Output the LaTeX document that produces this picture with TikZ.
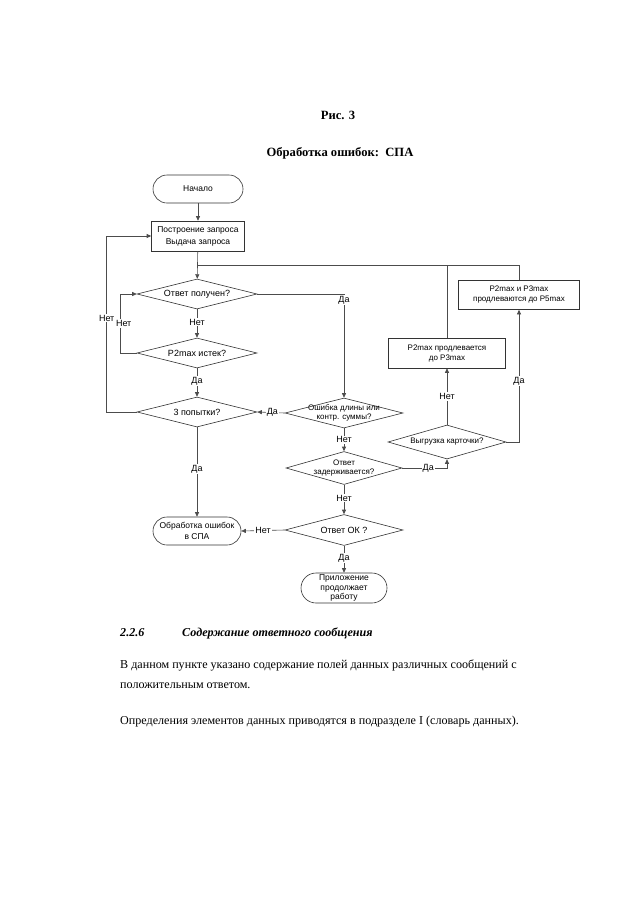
\documentclass[tikz,border=0pt]{standalone}
\usepackage{fontspec}
\setmainfont{Liberation Serif}
\newfontfamily\diafont{Liberation Sans}
\usetikzlibrary{arrows.meta,shapes.geometric}
\begin{document}
\begin{tikzpicture}[x=1pt,y=-1pt,
  ln/.style={draw=black!70, line width=0.6pt},
  arr/.style={ln, -{Triangle[length=4.5pt,width=4pt]}},
  term/.style={draw=black!80, line width=0.6pt, rectangle, rounded corners=14pt, minimum height=28pt, inner sep=1pt, align=center, font=\diafont\fontsize{8.5}{11}\selectfont},
  proc/.style={draw=black!80, line width=0.6pt, rectangle, minimum height=30pt, inner sep=1pt, align=center, font=\diafont\fontsize{8.5}{12}\selectfont},
  dia/.style={draw=black!80, line width=0.6pt, diamond, minimum width=120pt, minimum height=30pt, inner sep=0pt},
  dtext/.style={font=\diafont\fontsize{9}{10}\selectfont, align=center, inner sep=0pt},
  stext/.style={font=\diafont\fontsize{8}{9}\selectfont, align=center, inner sep=0pt},
  lbl/.style={font=\diafont\fontsize{9}{10}\selectfont, fill=white, inner sep=1pt},
  body/.style={font=\fontsize{12.1}{14}\selectfont, anchor=west, inner sep=0pt}
]
\useasboundingbox (0,0) rectangle (640,905);
\fill[white] (0,0) rectangle (640,905);

% titles
\node[font=\bfseries\fontsize{12.6}{14}\selectfont] (fig) at (338,115) {Рис. 3};
\node[font=\bfseries\fontsize{12.6}{14}\selectfont] (ttl) at (340,153) {Обработка ошибок:\ \ СПА};

% nodes
\node[term, minimum width=90pt] (start) at (198,189) {Начало};
\node[proc, minimum width=93pt] (proc) at (198,236) {Построение запроса\\Выдача запроса};
\coordinate (j1) at (198,265);
\node[dia, label={[dtext]center:Ответ получен?}] (d1) at (197,294) {};
\node[dia, label={[dtext]center:P2max истек?}] (d2) at (197,353) {};
\node[dia, label={[dtext]center:3 попытки?}] (d3) at (197,412) {};
\node[term, minimum width=88pt] (t2) at (197,531) {Обработка ошибок\\в СПА};
\node[dia, minimum width=118pt, label={[stext]center:Ошибка длины или\\контр. суммы?}] (d4) at (344,413) {};
\node[dia, minimum width=116pt, minimum height=33pt, label={[stext]center:Ответ\\задерживается?}] (d5) at (344,468) {};
\node[dia, minimum width=118pt, minimum height=31pt, label={[dtext]center:Ответ ОК ?}] (d7) at (344,530) {};
\node[term, minimum width=86pt, minimum height=30pt, rounded corners=15pt, font=\diafont\fontsize{8.5}{9.5}\selectfont] (t3) at (344,588) {Приложение\\продолжает\\работу};
\node[dia, minimum width=118pt, minimum height=34pt, label={[stext]center:Выгрузка карточки?}] (d6) at (447,442) {};
\node[proc, minimum width=117pt, font=\diafont\fontsize{8}{10}\selectfont] (p3) at (447,353) {P2max продлевается\\до P3max};
\node[proc, minimum width=121pt, minimum height=29pt, font=\diafont\fontsize{8}{10}\selectfont] (p5) at (519,295) {P2max и P3max\\продлеваются до P5max};

% connectors
\draw[arr] (start) -- (proc);
\draw[arr] (proc) -- (d1);
\draw[arr] (d1.east) -| node[lbl, pos=0.53] {Да} (d4.north);
\draw[arr] (d1) -- node[lbl, pos=0.45] {Нет} (d2);
\draw[arr] (d2.west) -- ++(-16,0) |- node[lbl, pos=0.25, xshift=3pt] {Нет} (d1.west);
\draw[arr] (d2) -- node[lbl, pos=0.45] {Да} (d3);
\draw[arr] (d3.west) -- ++(-30,0) |- node[lbl, pos=0.267] {Нет} (proc.west);
\draw[arr] (d4.west) -- node[lbl, pos=0.45] {Да} (d3.east);
\draw[arr] (d3) -- node[lbl, pos=0.47] {Да} (t2);
\draw[arr] (d4) -- node[lbl, pos=0.5] {Нет} (d5);
\draw[arr] (d5.east) -| node[lbl, pos=0.29] {Да} (d6.south);
\draw[arr] (d5) -- node[lbl, pos=0.45] {Нет} (d7);
\draw[arr] (d7.west) -- node[lbl, pos=0.5] {Нет} (t2.east);
\draw[arr] (d7) -- node[lbl, pos=0.45] {Да} (t3);
\draw[arr] (d6) -- node[lbl, pos=0.5] {Нет} (p3);
\draw[arr] (d6.east) -| node[lbl, pos=0.73] {Да} (p5.south);
\draw[ln] (p3.north) |- (j1);
\draw[ln] (p5.north) |- (j1);

% text below
\node[body, font=\bfseries\itshape\fontsize{12.1}{14}\selectfont] (sec) at (120,633) {2.2.6};
\node[body, font=\bfseries\itshape\fontsize{12.1}{14}\selectfont] (sect) at (182,633) {Содержание ответного сообщения};
\node[body] (l1) at (120,665) {В данном пункте указано содержание полей данных различных сообщений с};
\node[body] (l2) at (120,686) {положительным ответом.};
\node[body] (l3) at (120,722) {Определения элементов данных приводятся в подразделе I (словарь данных).};
\end{tikzpicture}
\end{document}
